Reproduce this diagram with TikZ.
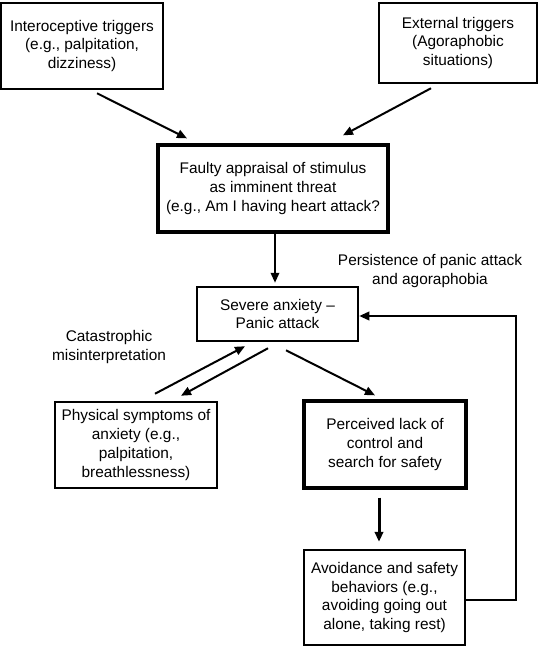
\documentclass[tikz,border=0pt]{standalone}
\usepackage{fontspec}
\setmainfont{Liberation Sans}
\usetikzlibrary{arrows.meta}

\tikzstyle{box}=[draw,line width=2.5pt,align=center,inner sep=0pt,font=\fontsize{15.4pt}{18.7pt}\selectfont]
\tikzstyle{thick box}=[box,line width=3.3pt]
\tikzstyle{edge}=[draw,line width=2pt,-{Triangle[length=10pt,width=8.5pt]}]
\tikzstyle{heavy edge}=[edge,line width=3pt]
\tikzstyle{note}=[align=center,inner sep=0pt,font=\fontsize{15.4pt}{18.7pt}\selectfont]

\begin{document}
\begin{tikzpicture}[x=1pt,y=-1pt]
     \useasboundingbox (0,0) rectangle (542,647);
     % First we draw the boxes
     \node[box,minimum width=162pt,minimum height=86pt] (intero) at (82,46)
       {Interoceptive triggers\\(e.g., palpitation,\\dizziness)};
     \node[box,minimum width=158pt,minimum height=80pt] (extern) at (458,43)
       {External triggers\\(Agoraphobic\\situations)};
     \node[thick box,minimum width=230pt,minimum height=87pt] (appraisal) at (273,188.5)
       {Faulty appraisal of stimulus\\as imminent threat\\(e.g., Am I having heart attack?};
     \node[box,minimum width=161pt,minimum height=54pt] (panic) at (277.5,314)
       {Severe anxiety --\\Panic attack};
     \node[box,minimum width=162pt,minimum height=86pt] (physical) at (136,445)
       {Physical symptoms of\\anxiety (e.g.,\\palpitation,\\breathlessness)};
     \node[thick box,minimum width=162pt,minimum height=87pt] (control) at (385,444.5)
       {Perceived lack of\\control and\\search for safety};
     \node[box,minimum width=161pt,minimum height=95pt] (avoid) at (384.5,597.5)
       {Avoidance and safety\\behaviors (e.g.,\\avoiding going out\\alone, taking rest)};

     % Labels
     \node[note] (persist) at (430,271) {Persistence of panic attack\\and agoraphobia};
     \node[note] (catas) at (109,347) {Catastrophic\\misinterpretation};

     % Connect boxes with arrows
     \path[edge] ([xshift=15pt,yshift=-3pt]intero.south) -- ([xshift=-86pt,yshift=5pt]appraisal.north);
     \path[edge] ([xshift=-27pt,yshift=-4pt]extern.south) -- ([xshift=70pt,yshift=8pt]appraisal.north);
     \path[edge] ([xshift=2pt]appraisal.south) -- ([xshift=-2.5pt,yshift=3pt]panic.north);
     \path[edge] ([xshift=19pt,yshift=7pt]physical.north) -- ([xshift=-32.5pt,yshift=-4pt]panic.south);
     \path[edge] ([xshift=-9.5pt,yshift=-6pt]panic.south) -- ([xshift=45pt,yshift=5pt]physical.north);
     \path[edge] ([xshift=8.5pt,yshift=-8pt]panic.south) -- ([xshift=-10pt,yshift=4pt]control.north);
     \path[heavy edge] ([xshift=-6pt,yshift=-8pt]control.south) -- ([xshift=-5.5pt,yshift=7pt]avoid.north);
     % Feedback loop
     \coordinate (back) at (516,316);
     \path[edge] ([yshift=-2.5pt]avoid.east) -| (back) -- ([yshift=-2pt]panic.east);
\end{tikzpicture}
\end{document}
